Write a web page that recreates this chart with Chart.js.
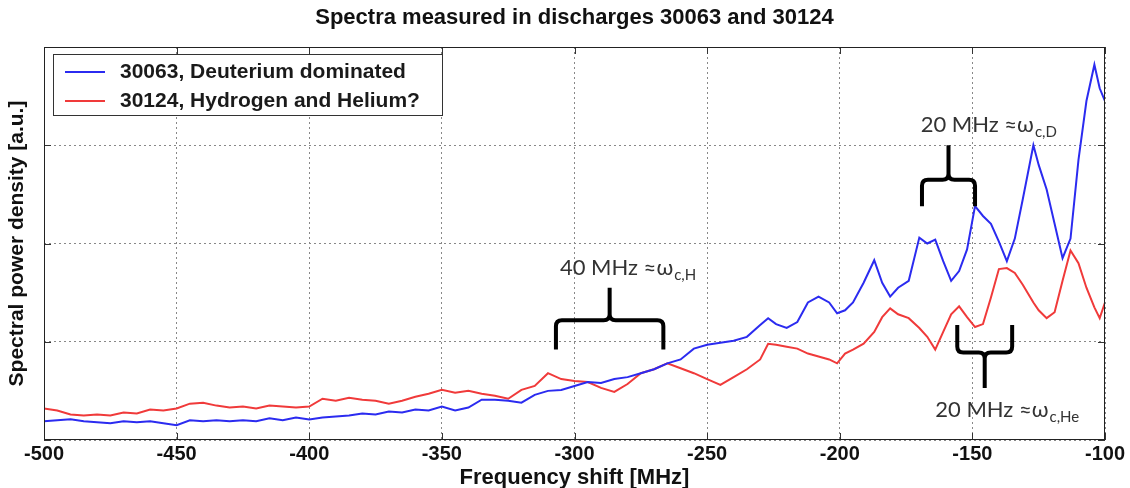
<!DOCTYPE html>
<html>
<head>
<meta charset="utf-8">
<script src="https://cdn.jsdelivr.net/npm/chart.js@4"></script>
<style>
	html, body { margin: 0; padding: 0; background: #fff; }
	#wrap { width: 1130px; height: 488px; }
</style>
</head>
<body>
<div id="wrap"><canvas id="SpectraCanvas" width="1130" height="488"></canvas></div>
<script>
// frequency shift [MHz]
var freq = [-500, -495, -490, -485, -480, -475, -470, -465, -460, -455,
	-450, -445, -440, -435, -430, -425, -420, -415, -410, -405,
	-400, -395, -390, -385, -380, -375, -370, -365, -360, -355,
	-350, -345, -340, -335, -330, -325, -320, -315, -310, -305,
	-300, -295, -290, -285, -280, -275, -270, -265, -260, -255,
	-250, -245, -240, -235, -230,
	-227, -224, -220, -216, -212, -208, -204, -201, -198, -195,
	-191, -187, -184, -181, -178, -174, -170, -167, -164, -161,
	-158, -155, -152, -149, -146, -143, -140, -137, -134, -131,
	-127, -125, -122, -119, -116, -113, -110, -107, -104, -102, -100];

// discharge 30063, deuterium dominated [a.u.]
var shot30063 = [0.19, 0.20, 0.21, 0.19, 0.18, 0.17, 0.19, 0.18, 0.19, 0.17,
	0.15, 0.20, 0.19, 0.20, 0.19, 0.20, 0.19, 0.22, 0.20, 0.23,
	0.21, 0.23, 0.24, 0.25, 0.27, 0.26, 0.29, 0.28, 0.31, 0.30,
	0.34, 0.30, 0.33, 0.41, 0.41, 0.40, 0.38, 0.46, 0.50, 0.51,
	0.55, 0.59, 0.58, 0.62, 0.64, 0.68, 0.72, 0.78, 0.82, 0.93,
	0.97, 0.99, 1.01, 1.05, 1.17,
	1.24, 1.18, 1.14, 1.20, 1.40, 1.46, 1.40, 1.29, 1.32, 1.40,
	1.60, 1.83, 1.60, 1.46, 1.55, 1.62, 2.06, 2.00, 2.04, 1.82,
	1.62, 1.72, 1.94, 2.38, 2.28, 2.20, 2.02, 1.82, 2.05, 2.45,
	3.00, 2.80, 2.55, 2.20, 1.85, 2.05, 2.85, 3.45, 3.82, 3.58, 3.45];

// discharge 30124, hydrogen and helium [a.u.]
var shot30124 = [0.32, 0.30, 0.26, 0.25, 0.26, 0.25, 0.28, 0.27, 0.31, 0.30,
	0.32, 0.37, 0.38, 0.35, 0.33, 0.34, 0.32, 0.35, 0.34, 0.33,
	0.34, 0.42, 0.40, 0.43, 0.41, 0.40, 0.37, 0.40, 0.44, 0.47,
	0.51, 0.48, 0.50, 0.47, 0.45, 0.42, 0.51, 0.55, 0.68, 0.62,
	0.60, 0.59, 0.53, 0.49, 0.57, 0.68, 0.72, 0.78, 0.73, 0.68,
	0.62, 0.56, 0.64, 0.72, 0.82,
	0.98, 0.97, 0.95, 0.93, 0.88, 0.85, 0.82, 0.78, 0.88, 0.92,
	0.98, 1.10, 1.25, 1.34, 1.28, 1.24, 1.14, 1.05, 0.92, 1.10,
	1.28, 1.36, 1.25, 1.15, 1.18, 1.45, 1.74, 1.75, 1.70, 1.58,
	1.40, 1.32, 1.24, 1.30, 1.62, 1.93, 1.80, 1.55, 1.35, 1.24, 1.40];

var seriesLabels = ['30063, Deuterium dominated', '30124, Hydrogen and Helium?'];
var xTicks = [-500, -450, -400, -350, -300, -250, -200, -150, -100];
var yTicks = [0, 1, 2, 3, 4];

// cyclotron spacing braces: [from, to] in MHz, levels in a.u.
var braces = [
	{ from: -307, to: -266.5, ends: 0.92, bar: 1.22, tip: 1.55, text: '40 MHz \u2248\u03c9', sub: 'c,H', tx: -305.5, ty: 1.68 },
	{ from: -169, to: -149, ends: 2.38, bar: 2.65, tip: 3.0, text: '20 MHz \u2248\u03c9', sub: 'c,D', tx: -169.5, ty: 3.13 },
	{ from: -155.7, to: -135, ends: 1.17, bar: 0.89, tip: 0.53, text: '20 MHz \u2248\u03c9', sub: 'c,He', tx: -164, ty: 0.23 }
];

var BLUE = '#2b2bf0';
var RED = '#f03a3a';
var FONT = '"Liberation Sans", Arial, sans-serif';

function toPoints(xs, ys) {
	var pts = [];
	for(var i = 0; i < xs.length; i++) {
		pts.push({ x: xs[i], y: ys[i] });
	}
	return pts;
}

var decorations = {
	id: 'decorations',
	afterDatasetsDraw: function(chart) {
		var ctx = chart.ctx;
		var a = chart.chartArea;
		var xs = chart.scales.x, ys = chart.scales.y;
		ctx.save();

		// matlab style inner ticks
		ctx.strokeStyle = '#333';
		ctx.lineWidth = 1;
		ctx.beginPath();
		xTicks.forEach(function(v) {
			var px = Math.round(xs.getPixelForValue(v)) + 0.5;
			ctx.moveTo(px, a.bottom); ctx.lineTo(px, a.bottom - 7);
			ctx.moveTo(px, a.top); ctx.lineTo(px, a.top + 7);
		});
		yTicks.forEach(function(v) {
			var py = Math.round(ys.getPixelForValue(v)) + 0.5;
			ctx.moveTo(a.left, py); ctx.lineTo(a.left + 7, py);
			ctx.moveTo(a.right, py); ctx.lineTo(a.right - 7, py);
		});
		ctx.stroke();
		ctx.strokeStyle = '#222';
		ctx.strokeRect(Math.round(a.left) + 0.5, Math.round(a.top) + 0.5, Math.round(a.width) - 1, Math.round(a.height) - 1);

		// legend box
		var lx = a.left + 9, ly = a.top + 7, lw = 389, lh = 61;
		ctx.fillStyle = '#fff';
		ctx.fillRect(lx, ly, lw, lh);
		ctx.strokeStyle = '#333';
		ctx.strokeRect(lx + 0.5, ly + 0.5, lw, lh);
		ctx.font = 'bold 21px ' + FONT;
		ctx.textBaseline = 'middle';
		chart.data.datasets.forEach(function(ds, i) {
			var yy = ly + 18 + i * 29;
			ctx.strokeStyle = ds.borderColor;
			ctx.lineWidth = 2;
			ctx.beginPath();
			ctx.moveTo(lx + 12, yy); ctx.lineTo(lx + 52, yy);
			ctx.stroke();
			ctx.fillStyle = '#1a1a1a';
			ctx.fillText(ds.label, lx + 67, yy);
		});

		// braces and labels
		braces.forEach(function(b) {
			var x0 = xs.getPixelForValue(b.from), x1 = xs.getPixelForValue(b.to);
			var xm = (x0 + x1) / 2;
			var ye = ys.getPixelForValue(b.ends), yb = ys.getPixelForValue(b.bar), yt = ys.getPixelForValue(b.tip);
			var r = 6 * Math.sign(ye - yb);
			var rt = 6 * Math.sign(yb - yt);
			ctx.strokeStyle = '#000';
			ctx.lineWidth = 4;
			ctx.lineJoin = 'round';
			ctx.lineCap = 'butt';
			ctx.beginPath();
			ctx.moveTo(x0, ye);
			ctx.lineTo(x0, yb + r);
			ctx.quadraticCurveTo(x0, yb, x0 + 6, yb);
			ctx.lineTo(xm - 6, yb);
			ctx.quadraticCurveTo(xm, yb, xm, yb - rt);
			ctx.lineTo(xm, yt);
			ctx.moveTo(xm, yb - rt);
			ctx.quadraticCurveTo(xm, yb, xm + 6, yb);
			ctx.lineTo(x1 - 6, yb);
			ctx.quadraticCurveTo(x1, yb, x1, yb + r);
			ctx.lineTo(x1, ye);
			ctx.stroke();

			var tx = xs.getPixelForValue(b.tx), ty = ys.getPixelForValue(b.ty);
			ctx.fillStyle = '#333';
			ctx.textBaseline = 'alphabetic';
			ctx.font = '22px Lato, "Open Sans", sans-serif';
			ctx.fillText(b.text, tx, ty);
			var w = ctx.measureText(b.text).width;
			ctx.font = '15px Lato, "Open Sans", sans-serif';
			ctx.fillText(b.sub, tx + w + 1, ty + 5);
		});
		ctx.restore();
	}
};

var ctx = document.getElementById('SpectraCanvas').getContext('2d');
var spectraChart = new Chart(ctx, {
	type: 'line',
	data: {
		datasets: [
			{ label: seriesLabels[0], data: toPoints(freq, shot30063), borderColor: BLUE, borderWidth: 2, pointRadius: 0, tension: 0, fill: false },
			{ label: seriesLabels[1], data: toPoints(freq, shot30124), borderColor: RED, borderWidth: 2, pointRadius: 0, tension: 0, fill: false }
		]
	},
	options: {
		responsive: false,
		animation: false,
		devicePixelRatio: 1,
		layout: { padding: { left: 0, right: 25, top: 0, bottom: 0 } },
		plugins: {
			legend: { display: false },
			tooltip: { enabled: false },
			title: {
				display: true,
				fullSize: false,
				text: 'Spectra measured in discharges 30063 and 30124',
				color: '#111',
				font: { family: FONT, size: 22, weight: 'bold', lineHeight: 1.2 },
				padding: { top: 5, bottom: 15.6 }
			}
		},
		scales: {
			x: {
				type: 'linear',
				min: -500,
				max: -100,
				afterFit: function(s) { s.height = 48; },
				ticks: {
					stepSize: 50,
					padding: 2,
					color: '#111',
					font: { family: FONT, size: 20, weight: 'bold' }
				},
				grid: { color: '#888', lineWidth: 1, drawTicks: false },
				border: { display: false, dash: [2, 3] },
				title: {
					display: true,
					text: 'Frequency shift [MHz]',
					color: '#111',
					font: { family: FONT, size: 22, weight: 'bold', lineHeight: 1.2 },
					padding: { top: 0, bottom: -3 }
				}
			},
			y: {
				min: 0,
				max: 4,
				afterFit: function(s) { s.width = 44; },
				ticks: { stepSize: 1, display: false },
				grid: { color: '#888', lineWidth: 1, drawTicks: false },
				border: { display: false, dash: [2, 3] },
				title: {
					display: true,
					text: 'Spectral power density [a.u.]',
					color: '#111',
					font: { family: FONT, size: 21, weight: 'bold', lineHeight: 1.2 },
					padding: { top: 5, bottom: 0 }
				}
			}
		}
	},
	plugins: [decorations]
});
</script>
</body>
</html>
